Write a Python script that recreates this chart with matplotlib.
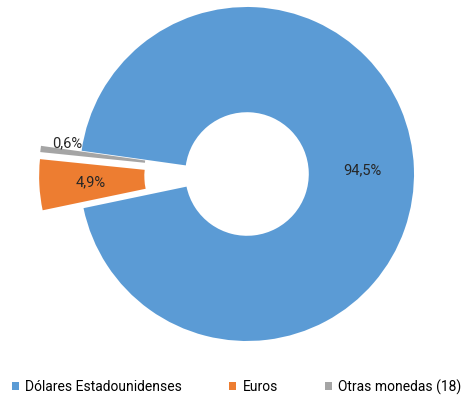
import numpy as np
import matplotlib
matplotlib.use("Agg")
import matplotlib.pyplot as plt

plt.rcParams['font.family'] = ['Roboto', 'DejaVu Sans']

labels = ['Dólares Estadounidenses', 'Euros', 'Otras monedas (18)']
values = [94.5, 4.9, 0.6]
colors = ['#5B9BD5', '#ED7D31', '#A5A5A5']
explode = [0, 0.245, 0.245]

fig = plt.figure(figsize=(4.7, 4.0), dpi=100)
ax = fig.add_axes([0, 0, 1, 1])

wedges, texts, autotexts = ax.pie(
    values, colors=colors, explode=explode, startangle=172, counterclock=False,
    radius=1, wedgeprops=dict(width=0.63, linewidth=0),
    autopct=lambda p: ('%.1f%%' % p).replace('.', ','), pctdistance=0.69,
    textprops=dict(fontsize=10.5, color='#262626'))

# small slice label sits just above its wedge
w = wedges[2]
ang = np.deg2rad((w.theta1 + w.theta2) / 2)
cx, cy = w.center
autotexts[2].set_position((cx + 0.84 * np.cos(ang), cy + 0.84 * np.sin(ang) + 0.055))

s = 167.0
ax.set_xlim(-247 / s, 223 / s)
ax.set_ylim(-226 / s, 174 / s)
ax.set_aspect('auto')
ax.axis('off')

fig.legend(wedges, labels, loc='center', bbox_to_anchor=(0.504, 1 - 387 / 400), ncol=3,
           frameon=False, fontsize=10, handlelength=0.5, handleheight=0.5,
           handletextpad=0.45, columnspacing=3.4, borderaxespad=0, borderpad=0)

fig.savefig('out.png', dpi=100)
